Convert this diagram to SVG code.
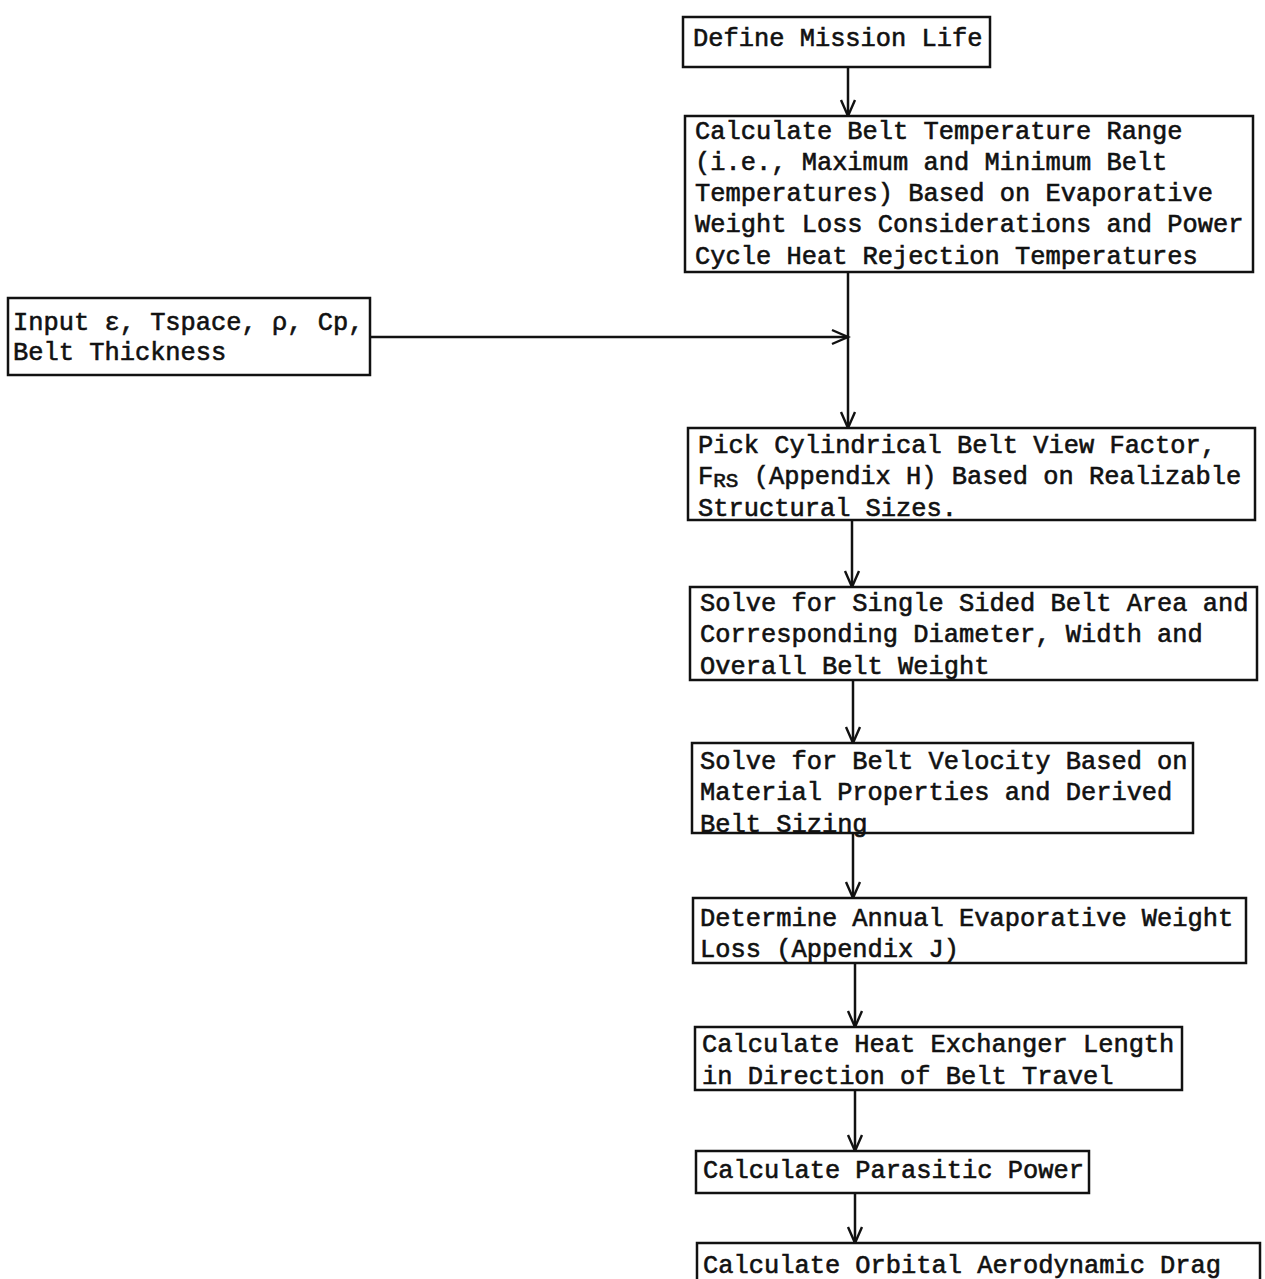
<svg xmlns="http://www.w3.org/2000/svg" width="1265" height="1279" viewBox="0 0 1265 1279">
<style>
.box{fill:#fff;stroke:#111;stroke-width:2.5}
.t{font-family:"Liberation Mono","DejaVu Sans Mono",monospace;font-size:25.4px;fill:#111;stroke:#111;stroke-width:0.6}
.sub{font-size:21px}
.c{fill:none;stroke:#111;stroke-width:2.5}
</style>
<defs>
<marker id="ah" markerUnits="userSpaceOnUse" markerWidth="20" markerHeight="20" refX="0" refY="0" orient="auto" overflow="visible">
<path d="M-16,-7 L0,0 L-16,7" fill="none" stroke="#111" stroke-width="2.4"/>
</marker>
</defs>
<rect width="1265" height="1279" fill="#fff"/>
<g id="connectors">
<path class="c" d="M848,67 V116" marker-end="url(#ah)"/>
<path class="c" d="M848,272 V428" marker-end="url(#ah)"/>
<path class="c" d="M370,337 H848" marker-end="url(#ah)"/>
<path class="c" d="M852,520 V587" marker-end="url(#ah)"/>
<path class="c" d="M853,680 V743" marker-end="url(#ah)"/>
<path class="c" d="M853,833 V898" marker-end="url(#ah)"/>
<path class="c" d="M855,963 V1027" marker-end="url(#ah)"/>
<path class="c" d="M855,1090 V1151" marker-end="url(#ah)"/>
<path class="c" d="M855,1193 V1243" marker-end="url(#ah)"/>
</g>
<g id="n1">
<rect class="box" x="683" y="17" width="307" height="50"/>
<text class="t" x="693" y="46">Define Mission Life</text>
</g>
<g id="n2">
<rect class="box" x="685" y="116" width="568" height="156"/>
<text class="t" x="695" y="139">Calculate Belt Temperature Range</text>
<text class="t" x="695" y="170">(i.e., Maximum and Minimum Belt</text>
<text class="t" x="695" y="201">Temperatures) Based on Evaporative</text>
<text class="t" x="695" y="232">Weight Loss Considerations and Power</text>
<text class="t" x="695" y="264">Cycle Heat Rejection Temperatures</text>
</g>
<g id="input">
<rect class="box" x="8" y="298" width="362" height="77"/>
<text class="t" x="13" y="330">Input ε, Tspace, ρ, Cp,</text>
<text class="t" x="13" y="360">Belt Thickness</text>
</g>
<g id="n3">
<rect class="box" x="688" y="428" width="567" height="92"/>
<text class="t" x="698" y="453">Pick Cylindrical Belt View Factor,</text>
<text class="t" x="698" y="484">F<tspan class="sub" dy="3">RS</tspan><tspan dy="-3"> (Appendix H) Based on Realizable</tspan></text>
<text class="t" x="698" y="516">Structural Sizes.</text>
</g>
<g id="n4">
<rect class="box" x="690" y="587" width="567" height="93"/>
<text class="t" x="700" y="611">Solve for Single Sided Belt Area and</text>
<text class="t" x="700" y="642">Corresponding Diameter, Width and</text>
<text class="t" x="700" y="674">Overall Belt Weight</text>
</g>
<g id="n5">
<rect class="box" x="692" y="743" width="501" height="90"/>
<text class="t" x="700" y="769">Solve for Belt Velocity Based on</text>
<text class="t" x="700" y="800">Material Properties and Derived</text>
<text class="t" x="700" y="832">Belt Sizing</text>
</g>
<g id="n6">
<rect class="box" x="693" y="898" width="553" height="65"/>
<text class="t" x="700" y="926">Determine Annual Evaporative Weight</text>
<text class="t" x="700" y="957">Loss (Appendix J)</text>
</g>
<g id="n7">
<rect class="box" x="695" y="1027" width="487" height="63"/>
<text class="t" x="702" y="1052">Calculate Heat Exchanger Length</text>
<text class="t" x="702" y="1084">in Direction of Belt Travel</text>
</g>
<g id="n8">
<rect class="box" x="696" y="1151" width="393" height="42"/>
<text class="t" x="703" y="1178">Calculate Parasitic Power</text>
</g>
<g id="n9">
<rect class="box" x="697" y="1243" width="563" height="60"/>
<text class="t" x="703" y="1273">Calculate Orbital Aerodynamic Drag</text>
</g>
</svg>
